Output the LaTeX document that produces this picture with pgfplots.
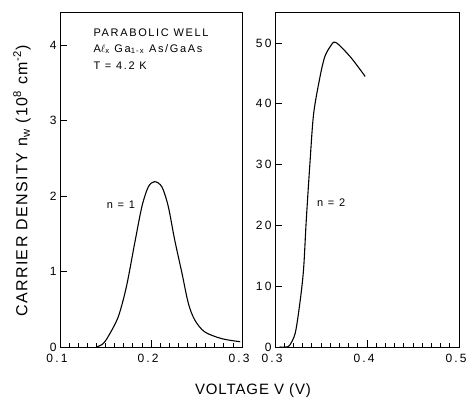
\documentclass[border=0pt]{standalone}
\usepackage{fontspec}
\setmainfont{Liberation Sans}
\newfontfamily\labfont[LetterSpace=6]{Liberation Sans}
\newfontfamily\ylabfont[LetterSpace=9]{Liberation Sans}
\newfontfamily\tckfont[LetterSpace=18]{Liberation Sans}
\newfontfamily\insfont[LetterSpace=15]{Liberation Sans}
\usepackage{pgfplots}
\pgfplotsset{compat=1.18}
\pgfplotstableread{
V n
0.140 0.00
0.147 0.04
0.153 0.14
0.164 0.40
0.173 0.80
0.182 1.37
0.190 1.86
0.197 2.12
0.204 2.19
0.212 2.12
0.219 1.86
0.226 1.42
0.234 0.98
0.241 0.58
0.248 0.36
0.259 0.20
0.278 0.11
0.298 0.07
}\nA
\pgfplotstableread{
V n
0.305 0.0
0.312 0.0
0.316 0.3
0.322 2.3
0.327 7.2
0.331 12.7
0.334 20.9
0.338 30.3
0.342 38.4
0.349 44.5
0.354 47.7
0.360 49.4
0.366 50.1
0.382 47.7
0.398 44.5
}\nB
\begin{document}
\begin{tikzpicture}[x=1bp,y=1bp]
\useasboundingbox (0,0) rectangle (472,399);
\pgfplotsset{
  common/.style={
    scale only axis, height=335bp,
    axis line style={line width=0.7pt},
    tick align=inside, xtick pos=left, ytick pos=left,
    major tick length=7bp, minor tick length=4.5bp,
    every tick/.style={black, line width=0.7pt},
    minor x tick num=9,
    ticklabel style={font=\tckfont\fontsize{12bp}{14bp}\selectfont},
    xticklabel style={yshift=-4bp, xshift=-3bp},
    ymin=0,
  }
}
\begin{axis}[common, width=182bp, at={(60bp,52bp)}, anchor=south west,
  xmin=0.1, xmax=0.3, ymax=4.437,
  xtick={0.1,0.2,0.3}, xticklabels={0.1,0.2,0.3},
  ytick={0,1,2,3,4}, yticklabels={0,1,2,3,4}]
\addplot[black, line width=1.1pt, smooth, tension=0.5] table[x=V,y=n] {\nA};
\node[anchor=west, font=\insfont\fontsize{11bp}{13bp}\selectfont] at (axis cs:0.133,4.166) {PARABOLIC WELL};
\node[anchor=west, font=\insfont\fontsize{11bp}{13bp}\selectfont] at (axis cs:0.133,3.947) {A$\ell$\textsubscript{x} Ga\textsubscript{1-x} As/GaAs};
\node[anchor=west, font=\insfont\fontsize{11bp}{13bp}\selectfont] at (axis cs:0.133,3.72) {T = 4.2 K};
\node[font=\insfont\fontsize{11bp}{13bp}\selectfont] at (axis cs:0.167,1.88) {n = 1};
\end{axis}
\begin{axis}[common, width=184bp, at={(275bp,52bp)}, anchor=south west,
  xmin=0.3, xmax=0.5, ymax=55.1,
  xtick={0.3,0.4,0.5}, xticklabels={0.3,0.4,0.5},
  ytick={0,10,20,30,40,50}, yticklabels={0,10,20,30,40,50}]
\addplot[black, line width=1.1pt, smooth, tension=0.5] table[x=V,y=n] {\nB};
\node[font=\insfont\fontsize{11bp}{13bp}\selectfont] at (axis cs:0.361,23.7) {n = 2};
\end{axis}
\node[font=\labfont\fontsize{15bp}{17bp}\selectfont] at (253,8) {VOLTAGE V (V)};
\node[rotate=90, font=\ylabfont\fontsize{16bp}{18bp}\selectfont] at (22,218) {CARRIER DENSITY n\textsubscript{w} (10\textsuperscript{8} cm\textsuperscript{-2})};
\end{tikzpicture}
\end{document}
